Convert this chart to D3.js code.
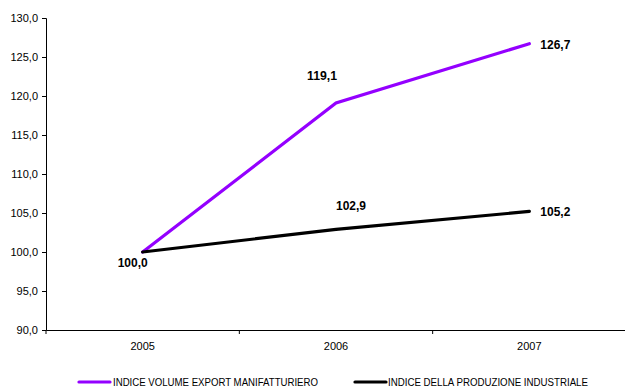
<!DOCTYPE html>
<html><head><meta charset="utf-8">
<script src="https://cdn.jsdelivr.net/npm/d3@7"></script>
<style>
body{margin:0;background:#fff;}
text{font-family:"Liberation Sans Narrow","Arial Narrow","Liberation Sans",Arial,sans-serif;}
</style></head><body>
<svg id="c" width="625" height="389"></svg>
<script>
const years = ["2005","2006","2007"];
const exportVals = [100.0, 119.1, 126.7];
const prodVals = [100.0, 102.9, 105.2];
const yTicks = [90,95,100,105,110,115,120,125,130];
const seriesNames = ["INDICE VOLUME EXPORT MANIFATTURIERO","INDICE DELLA PRODUZIONE INDUSTRIALE"];
const colors = ["#9400FF","#000000"];

const svg = d3.select("#c");
const x = d3.scaleBand().domain(years).range([46, 626]);
const y = d3.scaleLinear().domain([90,130]).range([330, 18]);
const fmt = v => v.toFixed(1).replace(".", ",");

// y axis
const ya = svg.append("g").attr("transform","translate(46,0)")
  .call(d3.axisLeft(y).tickValues(yTicks).tickSize(4).tickFormat(fmt));
ya.select(".domain").attr("stroke","#000");
ya.selectAll("text").attr("font-size","11px").attr("fill","#000").attr("dx","-1");

// x axis
const xa = svg.append("g").attr("transform","translate(0,330)")
  .call(d3.axisBottom(x).tickSize(0).tickPadding(12));
xa.select(".domain").attr("stroke","#000");
xa.selectAll("text").attr("font-size","11px").attr("fill","#000");
const bounds = years.map(d=>x(d)).concat([x.range()[1]]);
svg.append("g").selectAll("line").data(bounds).join("line")
  .attr("x1",d=>d).attr("x2",d=>d).attr("y1",330).attr("y2",334).attr("stroke","#000");

const cx = d => x(d) + x.bandwidth()/2;
const line = d3.line().x((d,i)=>cx(years[i])).y(d=>y(d));
[exportVals, prodVals].forEach((vals,k)=>{
  svg.append("path").datum(vals).attr("d",line).attr("fill","none")
    .attr("stroke",colors[k]).attr("stroke-width",3.2).attr("stroke-linecap","round");
});

// data labels
const lab = (txt, px, py) => svg.append("text").attr("x",px).attr("y",py)
  .attr("font-size","13px").attr("font-weight","bold").attr("fill","#000")
  .attr("text-anchor","middle").attr("textLength",30).attr("lengthAdjust","spacingAndGlyphs").text(txt);
lab(fmt(exportVals[1]), cx(years[1]) - 14, y(exportVals[1]) - 23);
lab(fmt(exportVals[2]), cx(years[2]) + 26, y(exportVals[2]) + 5);
lab(fmt(prodVals[1]), cx(years[1]) + 15, y(prodVals[1]) - 19);
lab(fmt(prodVals[2]), cx(years[2]) + 26, y(prodVals[2]) + 5);
lab(fmt(prodVals[0]), cx(years[0]) - 10, y(prodVals[0]) + 15);

// legend
const lg = [{x1:79,x2:110,tx:113,w:205},{x1:355,x2:386,tx:388,w:200}];
lg.forEach((l,k)=>{
  svg.append("line").attr("x1",l.x1).attr("x2",l.x2).attr("y1",382).attr("y2",382)
    .attr("stroke",colors[k]).attr("stroke-width",3.2).attr("stroke-linecap","round");
  svg.append("text").attr("x",l.tx).attr("y",386).attr("font-size","11px").attr("fill","#000")
    .attr("textLength",l.w).attr("lengthAdjust","spacingAndGlyphs").text(seriesNames[k]);
});
</script></body></html>
